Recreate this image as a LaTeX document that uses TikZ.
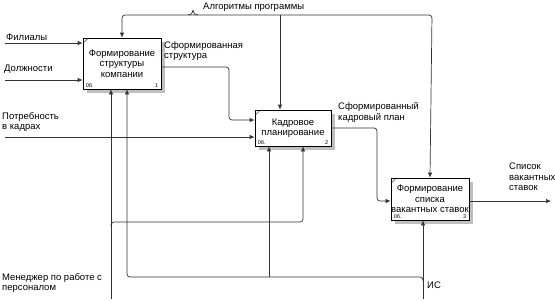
\documentclass[tikz,border=0pt]{standalone}
\usepackage{fontspec}
\setmainfont{Liberation Sans}
\usetikzlibrary{arrows.meta,calc}
\tikzset{
  fn/.style={draw=black,line width=0.7pt,fill=white,inner sep=0pt,align=center,
    font=\fontsize{9.5}{10.5}\selectfont},
  lbl/.style={inner sep=0pt,align=left,font=\fontsize{9.5}{10.5}\selectfont},
  tiny/.style={inner sep=0pt,font=\fontsize{5.5}{5.5}\selectfont},
  arr/.style={draw=black!80,line width=0.7pt,-{Latex[length=5pt,width=4.5pt]}},
  ln/.style={draw=black!80,line width=0.7pt},
  shade/.style={fill=gray!50}
}
\newcommand{\idefbox}[6]{% name, x, y, w, h, text
  \fill[shade] (#2-#4/2+4,#3-#5/2+4) rectangle (#2+#4/2+4,#3+#5/2+4);
  \node[fn,minimum width=#4pt,minimum height=#5pt] (#1) at (#2,#3) {#6};
  \draw[line width=0.4pt] ($(#1.north west)+(1,5)$) -- ($(#1.north west)+(5,1)$);
}
\begin{document}
\begin{tikzpicture}[x=1pt,y=-1pt]
\useasboundingbox (0,0) rectangle (555,301);
\idefbox{b1}{122}{63.5}{78}{51}{Формирование\\структуры\\компании}
\idefbox{b2}{293}{128}{76}{36}{Кадровое\\планирование}
\idefbox{b3}{430}{199}{78}{42}{Формирование\\списка\\вакантных ставок}
\node[tiny,anchor=south west] (n1a) at ($(b1.south west)+(3,-1.5)$) {0б.};
\node[tiny,anchor=south east] (n1b) at ($(b1.south east)+(-3,-1.5)$) {1};
\node[tiny,anchor=south west] (n2a) at ($(b2.south west)+(3,-1.5)$) {0б.};
\node[tiny,anchor=south east] (n2b) at ($(b2.south east)+(-3,-1.5)$) {2};
\node[tiny,anchor=south west] (n3a) at ($(b3.south west)+(3,-1.5)$) {0б.};
\node[tiny,anchor=south east] (n3b) at ($(b3.south east)+(-3,-1.5)$) {3};

% inputs
\coordinate (f1) at (5,43);
\coordinate (f2) at (5,80);
\coordinate (f3) at (5,137);
\draw[arr] (f1) -- (f1 -| b1.west);
\draw[arr] (f2) -- (f2 -| b1.west);
\draw[arr] (f3) -- (f3 -| b2.west);
\node[lbl,anchor=west] (tf1) at (6,37) {Филиалы};
\node[lbl,anchor=west] (tf2) at (4,69) {Должности};
\node[lbl,anchor=west] (tf3) at (2,122) {Потребность\\в кадрах};

% outputs
\draw[arr,rounded corners=3] (b1.east |- 0,67) -- (229,67) -- (229,120) -- (b2.west |- 0,120);
\draw[arr,rounded corners=3] (b2.east |- 0,128) -- (377,128) -- (377,201) -- (b3.west |- 0,201);
\coordinate (out3) at (551,201);
\draw[arr] (b3.east |- out3) -- (out3);
\node[lbl,anchor=west] (to1) at (164,51) {Сформированная\\структура};
\node[lbl,anchor=west] (to2) at (338,112.5) {Сформированный\\кадровый план};
\node[lbl,anchor=west] (to3) at (509,177) {Список\\вакантных\\ставок};

% controls
\coordinate (cj) at (193,15);
\draw[arr,rounded corners=3] (cj) -- (b1.north |- cj) -- (b1.north);
\draw[arr,rounded corners=3] (cj) -- (432,15) -- (b3.north);
\draw[arr] (280,15) -- (280,0 |- b2.north);
\draw[ln] (188,15) .. controls (191,15) and (192,14) .. (193,10)
          (193,10) .. controls (194,14) and (195,15) .. (198,15);
\node[lbl,anchor=west] (tc) at (203,7) {Алгоритмы программы};

% mechanisms
\coordinate (m1) at (111,299);
\coordinate (m2) at (423,299);
\draw[arr] (m1) -- (m1 |- b1.south);
\draw[arr,rounded corners=3] (111,226) -- (111,222) -- (303,222) -- (303,0 |- b2.south);
\draw[arr] (m2) -- (m2 |- b3.south);
\draw[arr,rounded corners=3] (423,281) -- (423,277) -- (127,277) -- (127,0 |- b1.south);
\draw[arr] (269,277) -- (269,0 |- b2.south);
\node[lbl,anchor=west] (tm1) at (2,283) {Менеджер по работе с\\персоналом};
\node[lbl,anchor=west] (tm2) at (427,285) {ИС};
\end{tikzpicture}
\end{document}
